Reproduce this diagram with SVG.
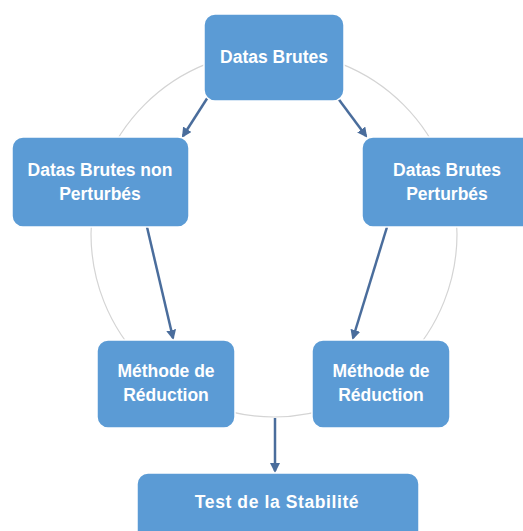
<svg xmlns="http://www.w3.org/2000/svg" width="523" height="531" viewBox="0 0 523 531">
<defs>
<style>
.box{fill:#5b9bd5;stroke:#ffffff;stroke-width:1.5}
.lbl{font-family:"Liberation Sans",Arial,sans-serif;font-weight:bold;font-size:17.5px;fill:#ffffff;text-anchor:middle}
.con{stroke:#4a6d9c;stroke-width:2.5;fill:none;marker-end:url(#ah)}
.ring{fill:none;stroke:#d4d4d4;stroke-width:1.2}
</style>
<marker id="ah" viewBox="0 0 10 10" refX="8" refY="5" markerWidth="4" markerHeight="4" orient="auto" markerUnits="strokeWidth">
<path d="M0,0 L10,5 L0,10 z" fill="#4a6d9c"/>
</marker>
</defs>
<rect width="523" height="531" fill="#ffffff"/>
<circle class="ring" cx="274" cy="234" r="183"/>
<g id="connectors">
<line class="con" x1="208" y1="97" x2="183" y2="136"/>
<line class="con" x1="337" y1="97" x2="366" y2="136"/>
<line class="con" x1="147" y1="227" x2="173" y2="338"/>
<line class="con" x1="387" y1="227" x2="353" y2="338"/>
<line class="con" x1="275" y1="418" x2="275" y2="471"/>
</g>
<g id="n1">
<rect class="box" x="204" y="14" width="140" height="87" rx="11"/>
<text class="lbl" x="274" y="63">Datas Brutes</text>
</g>
<g id="n2">
<rect class="box" x="12" y="137" width="177" height="90" rx="11"/>
<text class="lbl" x="100" y="176">Datas Brutes non</text>
<text class="lbl" x="100" y="200">Perturbés</text>
</g>
<g id="n3">
<rect class="box" x="362" y="137" width="175" height="90" rx="11"/>
<text class="lbl" x="447" y="176">Datas Brutes</text>
<text class="lbl" x="447" y="200">Perturbés</text>
</g>
<g id="n4">
<rect class="box" x="97" y="340" width="138" height="88" rx="11"/>
<text class="lbl" x="166" y="377">Méthode de</text>
<text class="lbl" x="166" y="401">Réduction</text>
</g>
<g id="n5">
<rect class="box" x="312" y="340" width="138" height="88" rx="11"/>
<text class="lbl" x="381" y="377">Méthode de</text>
<text class="lbl" x="381" y="401">Réduction</text>
</g>
<g id="n6">
<rect class="box" x="137" y="473" width="282" height="75" rx="11"/>
<text class="lbl" x="277" y="508" font-size="19" letter-spacing="0.6">Test de la Stabilité</text>
</g>
</svg>
